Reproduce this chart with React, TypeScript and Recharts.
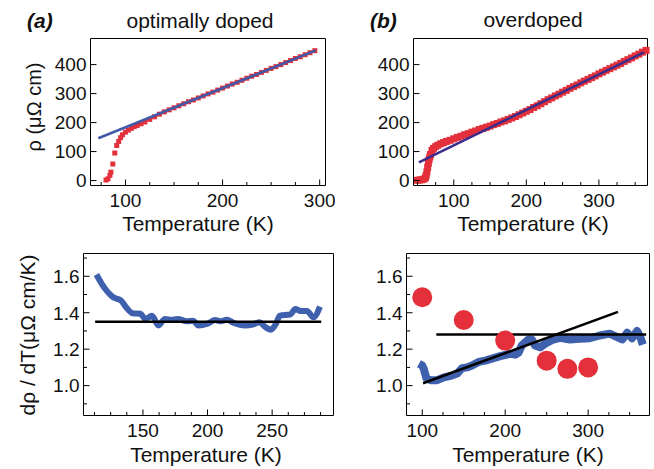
import { ComposedChart, Line, Scatter, XAxis, YAxis } from 'recharts';

const FONT = '"Liberation Sans", Arial, Helvetica, sans-serif';
const RED = '#e3303a';
const BLUE = '#3f60ad';
const FIT_A = '#4059a8';
const FIT_B = '#3b2c8b';

// (a) optimally doped: rho(T)
const optT = [80, 82, 84, 85, 87, 89, 91, 93, 95, 97, 100, 103, 106, 109, 112, 116, 120, 125, 130, 135, 140, 145, 150, 155, 160, 165, 170, 175, 180, 185, 190, 195, 200, 205, 210, 215, 220, 225, 230, 235, 240, 245, 250, 255, 260, 265, 270, 275, 280, 285, 290, 295];
const optRho = [2, 6, 18, 29, 57, 95, 121, 135, 148, 158, 167, 174, 180, 186, 190, 196, 202, 211, 220, 229, 237, 244, 251, 258, 265, 272, 278, 285, 292, 299, 305, 312, 319, 326, 333, 339, 346, 353, 360, 366, 373, 380, 387, 393, 400, 407, 414, 421, 427, 434, 441, 448];
const optFitT = [72, 296];
const optFitRho = [146, 449];

// (b) overdoped: rho(T)
const overT = [50, 53, 56, 59, 61, 62, 63, 64, 65, 66, 67, 68, 70, 72, 75, 78, 82, 86, 90, 95, 100, 105, 110, 115, 120, 125, 130, 135, 140, 145, 150, 155, 160, 165, 170, 175, 180, 185, 190, 195, 200, 205, 210, 215, 220, 225, 230, 235, 240, 245, 250, 255, 260, 265, 270, 275, 280, 285, 290, 295, 300, 305, 310, 315, 320, 325, 330, 335, 340, 345, 350, 355, 360, 365];
const overRho = [1, 2, 3, 5, 10, 18, 30, 45, 60, 72, 82, 90, 104, 111, 117, 122, 127, 131, 135, 139, 144, 149, 153, 158, 162, 167, 171, 176, 180, 184, 188, 193, 197, 202, 206, 211, 216, 221, 227, 233, 239, 245, 252, 258, 265, 272, 279, 285, 292, 298, 305, 311, 318, 324, 330, 337, 343, 349, 355, 361, 368, 374, 380, 386, 392, 398, 404, 411, 417, 423, 430, 436, 443, 449];
const overFitT = [52, 362];
const overFitRho = [63, 442];

// derivative, optimally doped
const optDerT = [114, 118, 122, 127, 133, 137, 142, 148, 152, 157, 162, 167, 172, 177, 184, 189, 193, 200, 206, 210, 215, 220, 229, 235, 240, 245, 249, 253, 256, 264, 268, 272, 277, 282, 287];
const optDerV = [1.61, 1.56, 1.52, 1.485, 1.467, 1.43, 1.397, 1.394, 1.366, 1.384, 1.33, 1.366, 1.36, 1.366, 1.353, 1.356, 1.33, 1.34, 1.36, 1.353, 1.362, 1.345, 1.33, 1.335, 1.348, 1.32, 1.307, 1.34, 1.384, 1.39, 1.42, 1.41, 1.41, 1.375, 1.434];
const optFlatT = [113, 288];
const optFlatV = [1.35, 1.35];

// derivative, overdoped
const overDerT = [96, 100, 102, 105, 110, 118, 126, 134, 142, 148, 154, 160, 168, 176, 184, 194, 206, 212, 216, 220, 228, 232, 236, 242, 250, 258, 266, 278, 290, 302, 314, 326, 335, 341, 347, 353, 359, 363, 366];
const overDerV = [1.12, 1.11, 1.09, 1.04, 1.03, 1.03, 1.045, 1.053, 1.066, 1.096, 1.1, 1.11, 1.13, 1.137, 1.148, 1.162, 1.175, 1.17, 1.18, 1.22, 1.253, 1.253, 1.22, 1.21, 1.235, 1.253, 1.262, 1.253, 1.257, 1.26, 1.275, 1.285, 1.266, 1.253, 1.29, 1.26, 1.3, 1.265, 1.225];
const overFlatT = [117, 370];
const overFlatV = [1.28, 1.28];
const overSlopeT = [101, 336];
const overSlopeV = [1.013, 1.405];
const overPtsT = [100, 150, 200, 250, 275, 300];
const overPtsV = [1.485, 1.36, 1.247, 1.137, 1.092, 1.1];

// ticks
const xMajA = [100, 200, 300];
const xMinA = [75, 125, 150, 175, 225, 250, 275];
const xMajB = [100, 200, 300];
const xMinB = [50, 75, 125, 150, 175, 225, 250, 275, 325, 350];
const xMajC = [150, 200, 250];
const xMinC = [112.5, 125, 137.5, 162.5, 175, 187.5, 212.5, 225, 237.5, 262.5, 275, 287.5];
const xMajD = [100, 200, 300];
const xMinD = [125, 150, 175, 225, 250, 275, 325, 350];
const rhoMaj = [0, 100, 200, 300, 400];
const derMaj = [1.0, 1.2, 1.4, 1.6];
const derMin = [0.9, 1.1, 1.3, 1.5, 1.7];

const pts = (xs: number[], ys: number[]) => xs.map((T, i) => ({ T, y: ys[i] }));

const ML = 70;
const MT = 10;
const MR = 10;
const MB = 30;
const AXIS = { stroke: '#000', strokeWidth: 1 };

type Side = 'bottom' | 'top' | 'left' | 'right';

const makeTick = (side: Side, majors: number[], digits: number) => (props: any) => {
  const { x, y, payload } = props;
  const v = payload.value;
  const major = majors.some((m) => Math.abs(m - v) < 1e-6);
  const len = major ? 6 : 3.5;
  let line;
  if (side === 'bottom') line = <line x1={x} y1={y} x2={x} y2={y - len} stroke="#000" />;
  else if (side === 'top') line = <line x1={x} y1={y} x2={x} y2={y + len} stroke="#000" />;
  else if (side === 'left') line = <line x1={x} y1={y} x2={x + len} y2={y} stroke="#000" />;
  else line = <line x1={x} y1={y} x2={x - len} y2={y} stroke="#000" />;
  let label = null;
  if (major && side === 'bottom')
    label = (
      <text x={x} y={y + 21} textAnchor="middle" fontSize={19} fontFamily={FONT} fill="#111">
        {v.toFixed(digits)}
      </text>
    );
  if (major && side === 'left')
    label = (
      <text x={x - 4} y={y} dy="0.36em" textAnchor="end" fontSize={19} fontFamily={FONT} fill="#111">
        {v.toFixed(digits)}
      </text>
    );
  return (
    <g>
      {line}
      {label}
    </g>
  );
};

type PanelProps = {
  box: { left: number; top: number; width: number; height: number };
  xDomain: [number, number];
  yDomain: [number, number];
  xMajor: number[];
  xMinor: number[];
  yMajor: number[];
  yMinor: number[];
  yDigits: number;
  children: any;
};

const Panel = ({ box, xDomain, yDomain, xMajor, xMinor, yMajor, yMinor, yDigits, children }: PanelProps) => {
  const xTicks = [...xMajor, ...xMinor].sort((a, b) => a - b);
  const yTicks = [...yMajor, ...yMinor].sort((a, b) => a - b);
  return (
    <div style={{ position: 'absolute', left: box.left - ML, top: box.top - MT }}>
      <ComposedChart
        width={box.width + ML + MR}
        height={box.height + MT + MB}
        margin={{ top: MT - 0.5, left: ML - 0.5, right: MR - 1.5, bottom: MB - 1.5 }}
      >
        <XAxis dataKey="T" type="number" domain={xDomain} ticks={xTicks} interval={0} height={1} tickSize={0} tickMargin={0} tickLine={false} axisLine={AXIS} tick={makeTick('bottom', xMajor, 0)} />
        <XAxis xAxisId="top" orientation="top" type="number" domain={xDomain} ticks={xTicks} interval={0} height={1} tickSize={0} tickMargin={0} tickLine={false} axisLine={AXIS} tick={makeTick('top', xMajor, 0)} />
        <YAxis type="number" domain={yDomain} ticks={yTicks} interval={0} width={1} tickSize={0} tickMargin={0} tickLine={false} axisLine={AXIS} tick={makeTick('left', yMajor, yDigits)} />
        <YAxis yAxisId="right" orientation="right" type="number" domain={yDomain} ticks={yTicks} interval={0} width={1} tickSize={0} tickMargin={0} tickLine={false} axisLine={AXIS} tick={makeTick('right', yMajor, yDigits)} />
        {children}
      </ComposedChart>
    </div>
  );
};

const square = (size: number) => (p: any) => (
  <rect x={p.cx - size / 2} y={p.cy - size / 2} width={size} height={size} fill={RED} />
);
const dotShape = (p: any) => <circle cx={p.cx} cy={p.cy} r={10} fill={RED} />;
const noShape = () => <g />;

const textStyle = { fontFamily: FONT, fill: '#111' };

export default function App() {
  return (
    <div style={{ position: 'absolute', left: 0, top: 0, width: 654, height: 469, background: '#fff', overflow: 'hidden' }}>
      <Panel box={{ left: 90, top: 38, width: 235, height: 147 }} xDomain={[64, 306]} yDomain={[-17, 490]} xMajor={xMajA} xMinor={xMinA} yMajor={rhoMaj} yMinor={[]} yDigits={0}>
        <Scatter data={pts(optT, optRho)} dataKey="y" shape={square(5)} isAnimationActive={false} />
        <Scatter data={pts(optFitT, optFitRho)} dataKey="y" shape={noShape} line={{ stroke: FIT_A, strokeWidth: 2.5 }} isAnimationActive={false} />
      </Panel>
      <Panel box={{ left: 413, top: 38, width: 234, height: 147 }} xDomain={[44.5, 367]} yDomain={[-17, 490]} xMajor={xMajB} xMinor={xMinB} yMajor={rhoMaj} yMinor={[]} yDigits={0}>
        <Scatter data={pts(overT, overRho)} dataKey="y" shape={square(7)} isAnimationActive={false} />
        <Scatter data={pts(overFitT, overFitRho)} dataKey="y" shape={noShape} line={{ stroke: FIT_B, strokeWidth: 2.5 }} isAnimationActive={false} />
      </Panel>
      <Panel box={{ left: 83, top: 253, width: 250, height: 162 }} xDomain={[104, 297.5]} yDomain={[0.836, 1.725]} xMajor={xMajC} xMinor={xMinC} yMajor={derMaj} yMinor={derMin} yDigits={1}>
        <Line data={pts(optDerT, optDerV)} dataKey="y" type="monotone" dot={false} stroke={BLUE} strokeWidth={6} strokeLinejoin="round" isAnimationActive={false} />
        <Line data={pts(optFlatT, optFlatV)} dataKey="y" type="linear" dot={false} stroke="#000" strokeWidth={2.5} isAnimationActive={false} />
      </Panel>
      <Panel box={{ left: 406, top: 253, width: 243, height: 162 }} xDomain={[81, 374]} yDomain={[0.836, 1.725]} xMajor={xMajD} xMinor={xMinD} yMajor={derMaj} yMinor={derMin} yDigits={1}>
        <Line data={pts(overDerT, overDerV)} dataKey="y" type="linear" dot={false} stroke={BLUE} strokeWidth={8} strokeLinejoin="round" isAnimationActive={false} />
        <Line data={pts(overFlatT, overFlatV)} dataKey="y" type="linear" dot={false} stroke="#000" strokeWidth={2.5} isAnimationActive={false} />
        <Line data={pts(overSlopeT, overSlopeV)} dataKey="y" type="linear" dot={false} stroke="#000" strokeWidth={2.5} isAnimationActive={false} />
        <Scatter data={pts(overPtsT, overPtsV)} dataKey="y" shape={dotShape} isAnimationActive={false} />
      </Panel>
      <svg width={654} height={469} style={{ position: 'absolute', left: 0, top: 0, pointerEvents: 'none' }}>
        <text x={27} y={28} fontSize={21} fontWeight="bold" fontStyle="italic" style={textStyle}>(a)</text>
        <text x={370} y={28} fontSize={21} fontWeight="bold" fontStyle="italic" style={textStyle}>(b)</text>
        <text x={200} y={28} fontSize={21} textAnchor="middle" style={textStyle}>optimally doped</text>
        <text x={533} y={27} fontSize={21} textAnchor="middle" style={textStyle}>overdoped</text>
        <text x={198} y={231} fontSize={21} textAnchor="middle" style={textStyle}>Temperature (K)</text>
        <text x={533} y={231} fontSize={21} textAnchor="middle" style={textStyle}>Temperature (K)</text>
        <text x={206} y={462} fontSize={21} textAnchor="middle" style={textStyle}>Temperature (K)</text>
        <text x={528} y={462} fontSize={21} textAnchor="middle" style={textStyle}>Temperature (K)</text>
        <text x={41} y={107} fontSize={20} textAnchor="middle" transform="rotate(-90 41 107)" style={textStyle}>ρ (μΩ cm)</text>
        <text x={35} y={335} fontSize={21} textAnchor="middle" transform="rotate(-90 35 335)" style={textStyle}>dρ / dT(μΩ cm/K)</text>
      </svg>
    </div>
  );
}
